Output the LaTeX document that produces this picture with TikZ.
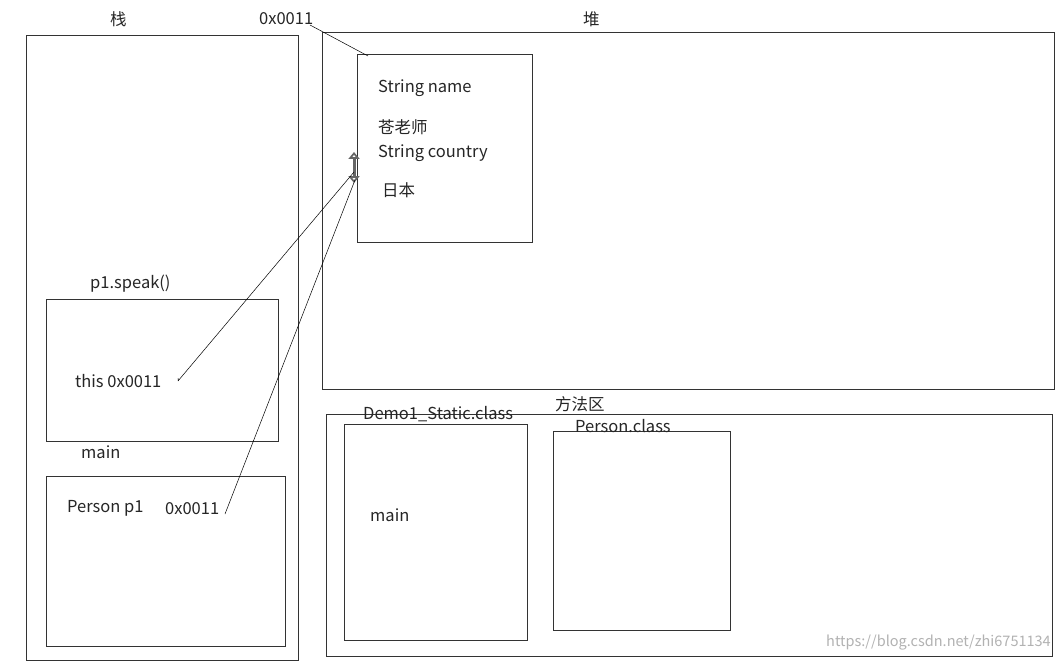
\documentclass[tikz,border=0pt]{standalone}
\usepackage{fontspec}
\setmainfont{Noto Sans CJK SC}
\usetikzlibrary{arrows.meta}
\begin{document}
\begin{tikzpicture}[x=1pt,y=-1pt,
  box/.style={draw=black!80,line width=0.9pt},
  lbl/.style={anchor=west,inner sep=0pt,font=\fontsize{16.5}{17}\selectfont,text=black!85},
  link/.style={draw=black,line width=0.5pt}]
\useasboundingbox (0,0) rectangle (1064,663);
\fill[white] (0,0) rectangle (1064,663);
\draw[box] (26,35) rectangle (298,660);
\draw[box] (322,32) rectangle (1054,389);
\draw[box] (357,54) rectangle (532,242);
\draw[box] (46,299) rectangle (278,441);
\draw[box] (46,476) rectangle (285,646);
\draw[box] (326,414) rectangle (1052,656);
\draw[box] (344,424) rectangle (527,640);
\draw[box] (553,431) rectangle (730,630);
\node[lbl] (zhan) at (110,19) {栈};
\node[lbl] (addr) at (259,19) {0x0011};
\node[lbl] (dui) at (583,19) {堆};
\node[lbl] (sn) at (378,88) {String name};
\node[lbl] (cang) at (378,127) {苍老师};
\node[lbl] (sc) at (378,153) {String country};
\node[lbl] (rb) at (382,190) {日本};
\node[lbl] (speak) at (90,284) {p1.speak()};
\node[lbl] (this) at (75,381) {this 0x0011};
\node[lbl] (mainl) at (81,452) {main};
\node[lbl] (pp) at (67,508) {Person p1};
\node[lbl] (px) at (165,509) {0x0011};
\node[lbl] (ff) at (555,404) {方法区};
\node[lbl] (demo) at (363,414) {Demo1\_Static.class};
\node[lbl] (pc) at (575,426) {Person.class};
\node[lbl] (m2) at (370,515) {main};
\node[lbl,text=black!30,font=\fontsize{14.5}{15}\selectfont] (wm) at (826,643) {https://blog.csdn.net/zhi6751134};
\coordinate (a1) at (310,25);
\coordinate (a2) at (368,56);
\draw[link] (a1) -- (a2);
\coordinate (up) at (354,152);
\coordinate (dn) at (354,183);
\draw[line width=3pt,black!60,{Triangle[open,fill=white,length=7pt,width=11pt]}-{Triangle[open,fill=white,length=7pt,width=11pt]}] (up) -- (dn);
\coordinate (t1) at (178,381);
\coordinate (t2) at (354,172);
\draw[link] (t1) -- ++(0,-3) (t1) -- (t2);
\coordinate (p1) at (225,514);
\coordinate (p2) at (355,180);
\draw[link] (p1) -- (p2);
\end{tikzpicture}
\end{document}
